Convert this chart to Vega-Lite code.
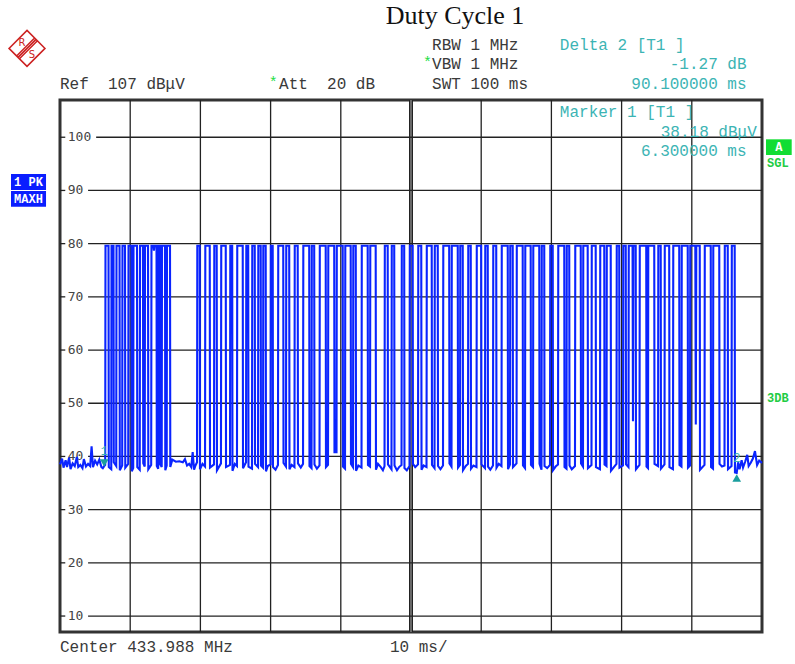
{
  "$schema": "https://vega.github.io/schema/vega-lite/v6.json",
  "width": 702,
  "height": 532,
  "autosize": {"type": "none"},
  "padding": {"left": 60, "top": 100, "right": 33, "bottom": 32},
  "background": "white",
  "config": {"view": {"stroke": "#333", "strokeWidth": 3}},
  "datasets": {
    "trace": [
      {"t":0,"v":38.5},{"t":0.3,"v":39.6},{"t":0.5,"v":37.9},{"t":0.8,"v":39.3},{"t":1.0,"v":38.0},{"t":1.3,"v":39.8},{"t":1.5,"v":37.6},{"t":1.8,"v":38.7},{"t":2.1,"v":38.2},{"t":2.4,"v":39.9},{"t":2.6,"v":38.0},{"t":2.9,"v":38.4},{"t":3.2,"v":37.8},{"t":3.4,"v":39.5},{"t":3.7,"v":38.1},{"t":4.0,"v":38.6},{"t":4.3,"v":38.2},{"t":4.5,"v":41.9},{"t":4.7,"v":38.0},{"t":5.0,"v":39.2},{"t":5.3,"v":38.5},{"t":5.6,"v":39.4},{"t":5.9,"v":38.0},{"t":6.1,"v":37.8},{"t":6.3,"v":38.18},
      {"t":6.44,"v":38.4},{"t":6.48,"v":79.6},{"t":6.91,"v":79.6},{"t":6.95,"v":38.0},
      {"t":7.30,"v":37.6},{"t":7.34,"v":79.6},{"t":7.62,"v":79.6},{"t":7.66,"v":38.9},
      {"t":8.01,"v":38.2},{"t":8.05,"v":79.6},{"t":8.48,"v":79.6},{"t":8.52,"v":37.4},
      {"t":8.86,"v":38.3},{"t":8.90,"v":79.6},{"t":9.26,"v":79.6},{"t":9.30,"v":37.9},
      {"t":9.72,"v":38.6},{"t":9.76,"v":79.6},{"t":10.19,"v":79.6},{"t":10.23,"v":37.2},
      {"t":10.43,"v":37.8},{"t":10.47,"v":79.6},{"t":10.97,"v":79.6},{"t":11.01,"v":38.0},
      {"t":11.36,"v":37.5},{"t":11.40,"v":79.6},{"t":11.82,"v":79.6},{"t":11.86,"v":38.7},
      {"t":12.07,"v":38.1},{"t":12.11,"v":79.6},{"t":12.54,"v":79.6},{"t":12.58,"v":37.6},
      {"t":12.99,"v":38.4},{"t":13.03,"v":79.6},{"t":13.30,"v":79.6},{"t":13.38,"v":78.7},{"t":13.46,"v":79.6},{"t":13.75,"v":79.6},{"t":13.79,"v":38.2},
      {"t":13.99,"v":37.7},{"t":14.03,"v":79.6},{"t":14.25,"v":79.6},{"t":14.29,"v":38.5},
      {"t":14.49,"v":38.0},{"t":14.53,"v":79.6},{"t":14.96,"v":79.6},{"t":15.00,"v":37.4},
      {"t":15.20,"v":38.3},{"t":15.24,"v":79.6},{"t":15.67,"v":79.6},{"t":15.71,"v":38.0},
      {"t":16.0,"v":39.4},{"t":16.5,"v":39.0},{"t":17.0,"v":39.1},{"t":17.5,"v":38.9},{"t":17.8,"v":39.5},{"t":18.1,"v":38.3},{"t":18.4,"v":38.6},{"t":18.7,"v":38.0},{"t":18.9,"v":40.8},{"t":19.1,"v":37.5},{"t":19.3,"v":38.3},
      {"t":19.52,"v":38.9},{"t":19.56,"v":79.6},{"t":19.90,"v":79.6},{"t":19.94,"v":37.6},{"t":20.3,"v":38.6},
      {"t":20.66,"v":38.1},{"t":20.70,"v":79.6},{"t":21.33,"v":79.6},{"t":21.37,"v":37.9},
      {"t":21.94,"v":38.5},{"t":21.98,"v":79.6},{"t":22.32,"v":79.6},{"t":22.36,"v":37.4},
      {"t":22.93,"v":38.7},{"t":22.97,"v":79.6},{"t":23.61,"v":79.6},{"t":23.65,"v":38.0},
      {"t":24.22,"v":38.4},{"t":24.26,"v":79.6},{"t":24.53,"v":79.6},{"t":24.57,"v":37.3},{"t":24.9,"v":38.6},
      {"t":25.21,"v":38.2},{"t":25.25,"v":79.6},{"t":26.03,"v":79.6},{"t":26.07,"v":37.8},
      {"t":26.50,"v":38.9},{"t":26.54,"v":79.6},{"t":26.81,"v":79.6},{"t":26.85,"v":38.1},
      {"t":27.35,"v":37.7},{"t":27.39,"v":79.6},{"t":27.74,"v":79.6},{"t":27.78,"v":38.6},
      {"t":28.21,"v":38.0},{"t":28.25,"v":79.6},{"t":28.59,"v":79.6},{"t":28.63,"v":38.3},
      {"t":28.92,"v":37.9},{"t":28.96,"v":79.6},{"t":29.30,"v":79.6},{"t":29.34,"v":37.2},{"t":29.6,"v":38.2},
      {"t":29.99,"v":38.5},{"t":30.03,"v":79.6},{"t":30.30,"v":79.6},{"t":30.34,"v":38.0},{"t":30.7,"v":37.5},
      {"t":31.05,"v":38.4},{"t":31.09,"v":79.6},{"t":31.80,"v":79.6},{"t":31.84,"v":38.8},
      {"t":32.19,"v":38.1},{"t":32.23,"v":79.6},{"t":32.65,"v":79.6},{"t":32.69,"v":37.6},{"t":33.0,"v":38.4},
      {"t":33.40,"v":38.0},{"t":33.44,"v":79.6},{"t":33.86,"v":79.6},{"t":33.90,"v":38.7},{"t":34.3,"v":37.9},
      {"t":34.62,"v":38.6},{"t":34.66,"v":79.6},{"t":35.50,"v":79.6},{"t":35.54,"v":38.2},
      {"t":35.83,"v":37.8},{"t":35.87,"v":79.6},{"t":36.21,"v":79.6},{"t":36.25,"v":38.5},{"t":36.6,"v":37.7},
      {"t":36.97,"v":38.3},{"t":37.01,"v":79.6},{"t":37.85,"v":79.6},{"t":37.89,"v":38.0},
      {"t":38.18,"v":38.4},{"t":38.22,"v":79.6},{"t":39.06,"v":79.6},{"t":39.10,"v":40.8},
      {"t":39.39,"v":40.8},{"t":39.43,"v":79.6},{"t":40.27,"v":79.6},{"t":40.31,"v":38.1},
      {"t":40.60,"v":37.7},{"t":40.64,"v":79.6},{"t":41.41,"v":79.6},{"t":41.45,"v":38.6},
      {"t":41.74,"v":38.0},{"t":41.78,"v":79.6},{"t":42.13,"v":79.6},{"t":42.17,"v":37.3},{"t":42.5,"v":38.3},
      {"t":42.95,"v":37.9},{"t":42.99,"v":79.6},{"t":43.83,"v":79.6},{"t":43.87,"v":38.4},
      {"t":44.16,"v":38.1},{"t":44.20,"v":79.6},{"t":44.97,"v":79.6},{"t":45.01,"v":37.5},{"t":45.3,"v":38.6},{"t":45.7,"v":38.0},{"t":46.0,"v":37.4},
      {"t":46.23,"v":38.2},{"t":46.27,"v":79.6},{"t":46.68,"v":79.6},{"t":46.72,"v":38.5},
      {"t":47.22,"v":37.6},{"t":47.26,"v":79.6},{"t":47.61,"v":79.6},{"t":47.65,"v":38.3},{"t":48.0,"v":37.4},{"t":48.3,"v":38.0},
      {"t":48.65,"v":38.4},{"t":48.69,"v":79.6},{"t":49.03,"v":79.6},{"t":49.07,"v":37.8},{"t":49.4,"v":37.4},
      {"t":49.79,"v":38.2},{"t":49.83,"v":79.6},{"t":50.24,"v":79.6},{"t":50.28,"v":38.6},{"t":50.6,"v":38.0},
      {"t":51.00,"v":38.5},{"t":51.04,"v":79.6},{"t":51.46,"v":79.6},{"t":51.50,"v":37.5},{"t":51.8,"v":38.3},
      {"t":52.21,"v":38.0},{"t":52.25,"v":79.6},{"t":52.95,"v":79.6},{"t":52.99,"v":38.4},
      {"t":53.35,"v":37.8},{"t":53.39,"v":79.6},{"t":53.81,"v":79.6},{"t":53.85,"v":38.2},{"t":54.2,"v":37.6},
      {"t":54.56,"v":38.3},{"t":54.60,"v":79.6},{"t":55.44,"v":79.6},{"t":55.48,"v":38.7},
      {"t":55.77,"v":38.1},{"t":55.81,"v":79.6},{"t":56.66,"v":79.6},{"t":56.70,"v":37.9},
      {"t":56.98,"v":38.4},{"t":57.02,"v":79.6},{"t":57.37,"v":79.6},{"t":57.41,"v":37.4},{"t":57.8,"v":38.2},
      {"t":58.12,"v":38.6},{"t":58.16,"v":79.6},{"t":58.51,"v":79.6},{"t":58.55,"v":37.7},{"t":58.9,"v":38.3},
      {"t":59.33,"v":38.0},{"t":59.37,"v":79.6},{"t":60.00,"v":79.6},{"t":60.04,"v":38.5},
      {"t":60.54,"v":37.8},{"t":60.58,"v":79.6},{"t":60.93,"v":79.6},{"t":60.97,"v":38.1},{"t":61.3,"v":37.5},
      {"t":61.68,"v":38.3},{"t":61.72,"v":79.6},{"t":62.14,"v":79.6},{"t":62.18,"v":37.9},{"t":62.5,"v":38.6},
      {"t":62.89,"v":38.2},{"t":62.93,"v":79.6},{"t":63.78,"v":79.6},{"t":63.82,"v":37.6},
      {"t":64.10,"v":38.5},{"t":64.14,"v":79.6},{"t":64.49,"v":79.6},{"t":64.53,"v":38.0},
      {"t":65.03,"v":38.7},{"t":65.07,"v":79.6},{"t":65.91,"v":79.6},{"t":65.95,"v":38.3},
      {"t":66.24,"v":37.8},{"t":66.28,"v":79.6},{"t":67.05,"v":79.6},{"t":67.09,"v":38.4},
      {"t":67.38,"v":38.0},{"t":67.42,"v":79.6},{"t":68.27,"v":79.6},{"t":68.31,"v":38.6},
      {"t":68.59,"v":37.5},{"t":68.63,"v":79.6},{"t":68.98,"v":79.6},{"t":69.02,"v":38.2},{"t":69.4,"v":37.8},
      {"t":69.80,"v":38.4},{"t":69.84,"v":79.6},{"t":70.19,"v":79.6},{"t":70.23,"v":37.4},{"t":70.6,"v":38.1},
      {"t":70.94,"v":38.5},{"t":70.98,"v":79.6},{"t":71.83,"v":79.6},{"t":71.87,"v":38.0},
      {"t":72.15,"v":37.7},{"t":72.19,"v":79.6},{"t":72.54,"v":79.6},{"t":72.58,"v":38.3},{"t":72.9,"v":37.6},
      {"t":73.36,"v":38.2},{"t":73.40,"v":79.6},{"t":74.18,"v":79.6},{"t":74.22,"v":38.7},
      {"t":74.50,"v":38.1},{"t":74.54,"v":79.6},{"t":75.17,"v":79.6},{"t":75.21,"v":37.8},
      {"t":75.71,"v":38.4},{"t":75.75,"v":79.6},{"t":76.31,"v":79.6},{"t":76.35,"v":38.0},
      {"t":76.92,"v":37.6},{"t":76.96,"v":79.6},{"t":77.53,"v":79.6},{"t":77.57,"v":38.5},
      {"t":77.85,"v":38.2},{"t":77.89,"v":79.6},{"t":78.45,"v":79.6},{"t":78.49,"v":37.3},{"t":78.9,"v":38.0},
      {"t":79.27,"v":38.6},{"t":79.31,"v":79.6},{"t":79.66,"v":79.6},{"t":79.70,"v":37.9},
      {"t":80.20,"v":38.3},{"t":80.24,"v":79.6},{"t":80.59,"v":79.6},{"t":80.63,"v":38.5},
      {"t":80.98,"v":38.0},{"t":81.02,"v":79.6},{"t":81.56,"v":79.6},{"t":81.62,"v":46.6},{"t":81.68,"v":79.6},{"t":82.01,"v":79.6},{"t":82.05,"v":37.6},
      {"t":82.55,"v":38.4},{"t":82.59,"v":79.6},{"t":83.51,"v":79.6},{"t":83.55,"v":38.1},
      {"t":83.76,"v":37.8},{"t":83.80,"v":79.6},{"t":84.65,"v":79.6},{"t":84.69,"v":38.6},
      {"t":85.19,"v":38.2},{"t":85.23,"v":79.6},{"t":85.57,"v":79.6},{"t":85.61,"v":37.7},
      {"t":86.11,"v":38.5},{"t":86.15,"v":79.6},{"t":86.78,"v":79.6},{"t":86.82,"v":38.0},
      {"t":87.32,"v":37.6},{"t":87.36,"v":79.6},{"t":88.21,"v":79.6},{"t":88.25,"v":38.4},
      {"t":88.53,"v":38.1},{"t":88.57,"v":79.6},{"t":89.42,"v":79.6},{"t":89.46,"v":37.9},
      {"t":89.74,"v":38.3},{"t":89.78,"v":79.6},{"t":90.50,"v":79.6},{"t":90.57,"v":46.0},{"t":90.64,"v":79.6},{"t":91.13,"v":79.6},{"t":91.17,"v":37.5},
      {"t":91.81,"v":38.4},{"t":91.85,"v":79.6},{"t":92.70,"v":79.6},{"t":92.74,"v":38.0},
      {"t":93.02,"v":37.7},{"t":93.06,"v":79.6},{"t":93.91,"v":79.6},{"t":93.95,"v":38.6},{"t":94.3,"v":38.1},
      {"t":94.66,"v":38.3},{"t":94.70,"v":79.6},{"t":95.12,"v":79.6},{"t":95.16,"v":37.6},
      {"t":95.66,"v":38.2},{"t":95.70,"v":79.6},{"t":96.11,"v":79.6},{"t":96.15,"v":37.0},
      {"t":96.4,"v":36.9},{"t":96.6,"v":38.9},{"t":96.8,"v":37.6},{"t":97.1,"v":39.3},{"t":97.3,"v":37.9},{"t":97.6,"v":39.0},{"t":97.9,"v":40.3},{"t":98.1,"v":38.2},{"t":98.4,"v":38.8},{"t":98.7,"v":39.6},{"t":99.0,"v":41.0},{"t":99.3,"v":38.4},{"t":99.6,"v":39.2},{"t":100,"v":38.8}
    ],
    "vgrid": [{"g":10},{"g":20},{"g":30},{"g":40},{"g":60},{"g":70},{"g":80},{"g":90}],
    "hgrid": [
      {"v":100,"lab":"100"},{"v":90,"lab":"90"},{"v":80,"lab":"80"},{"v":70,"lab":"70"},{"v":60,"lab":"60"},
      {"v":50,"lab":"50"},{"v":40,"lab":"40"},{"v":30,"lab":"30"},{"v":20,"lab":"20"},{"v":10,"lab":"10"}
    ],
    "markers": [{"t":6.3,"v":38.18,"n":"1"},{"t":96.4,"v":36.91,"n":"2"}],
    "grayText": [
      {"x":0,"y":110.0,"s":"Ref\u00a0\u00a0107 dBμV"},
      {"x":31.2,"y":110.0,"s":"Att\u00a0\u00a020 dB"},
      {"x":53.0,"y":117.34,"s":"RBW 1 MHz"},
      {"x":53.0,"y":113.77,"s":"VBW 1 MHz"},
      {"x":53.0,"y":110.0,"s":"SWT 100 ms"},
      {"x":0,"y":4.18,"s":"Center 433.988 MHz"},
      {"x":47.0,"y":4.18,"s":"10 ms/"}
    ],
    "tealLeft": [
      {"x":71.2,"y":117.34,"s":"Delta 2 [T1 ]"},
      {"x":71.2,"y":104.8,"s":"Marker 1 [T1 ]"}
    ],
    "tealRight": [
      {"x":97.8,"y":113.77,"s":"-1.27 dB"},
      {"x":97.8,"y":110.0,"s":"90.100000 ms"},
      {"x":99.25,"y":101.04,"s":"38.18 dBμV"},
      {"x":97.8,"y":97.47,"s":"6.300000 ms"}
    ],
    "stars": [{"x":29.75,"y":110.35,"s":"*"},{"x":51.7,"y":114.1,"s":"*"}],
    "greenText": [{"x":100.71,"y":95.1,"s":"SGL"},{"x":100.71,"y":50.93,"s":"3DB"}],
    "boxes": [
      {"x":-6.98,"x2":-1.99,"y":93.09,"y2":90.08,"s":"1 PK","cx":-4.49,"cy":91.59,"c":"blue"},
      {"x":-6.98,"x2":-1.99,"y":89.89,"y2":86.94,"s":"MAXH","cx":-4.49,"cy":88.42,"c":"blue"},
      {"x":100.57,"x2":104.23,"y":99.61,"y2":96.66,"s":"A","cx":102.4,"cy":98.13,"c":"green"}
    ],
    "logo": [{"x":-4.7,"y":116.7}],
    "logoText": [{"x":-5.41,"y":117.75,"s":"R"},{"x":-3.99,"y":115.45,"s":"S"}],
    "titleText": [{"x":56.27,"y":122.8,"s":"Duty Cycle 1"}]
  },
  "layer": [
    {
      "data": {"name": "vgrid"},
      "mark": {"type": "rule", "color": "#222", "strokeWidth": 1.3},
      "encoding": {"x": {"field": "g", "type": "quantitative", "scale": {"domain": [0, 100], "nice": false, "zero": false}, "axis": null}}
    },
    {
      "data": {"values": [{"g": 50}]},
      "mark": {"type": "rule", "color": "#222", "strokeWidth": 4},
      "encoding": {"x": {"field": "g", "type": "quantitative", "scale": {"domain": [0, 100], "nice": false, "zero": false}, "axis": null}}
    },
    {
      "data": {"values": [{"g": 50}]},
      "mark": {"type": "rule", "color": "#999", "strokeWidth": 1.2},
      "encoding": {"x": {"field": "g", "type": "quantitative", "scale": {"domain": [0, 100], "nice": false, "zero": false}, "axis": null}}
    },
    {
      "data": {"name": "hgrid"},
      "transform": [{"filter": "datum.v < 100"}],
      "mark": {"type": "rule", "color": "#222", "strokeWidth": 1.3},
      "encoding": {
        "x": {"datum": 4.0, "type": "quantitative", "scale": {"domain": [0, 100], "nice": false, "zero": false}, "axis": null},
        "x2": {"datum": 100},
        "y": {"field": "v", "type": "quantitative", "scale": {"domain": [7, 107], "nice": false, "zero": false}, "axis": null}
      }
    },
    {
      "data": {"name": "hgrid"},
      "transform": [{"filter": "datum.v == 100"}],
      "mark": {"type": "rule", "color": "#222", "strokeWidth": 1.3},
      "encoding": {
        "x": {"datum": 5.15, "type": "quantitative", "scale": {"domain": [0, 100], "nice": false, "zero": false}, "axis": null},
        "x2": {"datum": 100},
        "y": {"field": "v", "type": "quantitative", "scale": {"domain": [7, 107], "nice": false, "zero": false}, "axis": null}
      }
    },
    {
      "data": {"name": "hgrid"},
      "mark": {"type": "rule", "color": "#222", "strokeWidth": 1.3},
      "encoding": {
        "x": {"datum": 0, "type": "quantitative", "scale": {"domain": [0, 100], "nice": false, "zero": false}, "axis": null},
        "x2": {"datum": 0.75},
        "y": {"field": "v", "type": "quantitative", "scale": {"domain": [7, 107], "nice": false, "zero": false}, "axis": null}
      }
    },
    {
      "data": {"name": "hgrid"},
      "mark": {"type": "text", "align": "left", "baseline": "middle", "font": "DejaVu Sans Mono", "fontSize": 13, "color": "#444"},
      "encoding": {
        "x": {"datum": 1.1, "type": "quantitative", "scale": {"domain": [0, 100], "nice": false, "zero": false}, "axis": null},
        "y": {"field": "v", "type": "quantitative", "scale": {"domain": [7, 107], "nice": false, "zero": false}, "axis": null},
        "text": {"field": "lab"}
      }
    },
    {
      "data": {"name": "trace"},
      "mark": {"type": "line", "color": "#0a24ff", "strokeWidth": 2.1},
      "encoding": {
        "x": {"field": "t", "type": "quantitative", "scale": {"domain": [0, 100], "nice": false, "zero": false}, "axis": null},
        "y": {"field": "v", "type": "quantitative", "scale": {"domain": [7, 107], "nice": false, "zero": false}, "axis": null},
        "order": {"field": "t", "type": "quantitative"}
      }
    },
    {
      "data": {"name": "markers"},
      "transform": [{"filter": "datum.n == '1'"}],
      "mark": {"type": "point", "shape": "triangle-down", "filled": true, "color": "#1a9e9e", "size": 75, "yOffset": -3, "opacity": 1},
      "encoding": {
        "x": {"field": "t", "type": "quantitative", "scale": {"domain": [0, 100], "nice": false, "zero": false}, "axis": null},
        "y": {"field": "v", "type": "quantitative", "scale": {"domain": [7, 107], "nice": false, "zero": false}, "axis": null}
      }
    },
    {
      "data": {"name": "markers"},
      "transform": [{"filter": "datum.n == '2'"}],
      "mark": {"type": "point", "shape": "triangle-up", "filled": true, "color": "#1a9e9e", "size": 75, "yOffset": 5, "opacity": 1},
      "encoding": {
        "x": {"field": "t", "type": "quantitative", "scale": {"domain": [0, 100], "nice": false, "zero": false}, "axis": null},
        "y": {"field": "v", "type": "quantitative", "scale": {"domain": [7, 107], "nice": false, "zero": false}, "axis": null}
      }
    },
    {
      "data": {"name": "markers"},
      "mark": {"type": "text", "align": "center", "baseline": "middle", "font": "Liberation Mono", "fontSize": 12, "color": "#3cb4b4", "dy": -15},
      "encoding": {
        "x": {"field": "t", "type": "quantitative", "scale": {"domain": [0, 100], "nice": false, "zero": false}, "axis": null},
        "y": {"field": "v", "type": "quantitative", "scale": {"domain": [7, 107], "nice": false, "zero": false}, "axis": null},
        "text": {"field": "n"}
      }
    },
    {
      "data": {"name": "grayText"},
      "mark": {"type": "text", "align": "left", "baseline": "middle", "font": "Liberation Mono", "fontSize": 16, "color": "#3a3a3a"},
      "encoding": {
        "x": {"field": "x", "type": "quantitative", "scale": {"domain": [0, 100], "nice": false, "zero": false}, "axis": null},
        "y": {"field": "y", "type": "quantitative", "scale": {"domain": [7, 107], "nice": false, "zero": false}, "axis": null},
        "text": {"field": "s"}
      }
    },
    {
      "data": {"name": "tealLeft"},
      "mark": {"type": "text", "align": "left", "baseline": "middle", "font": "Liberation Mono", "fontSize": 16, "color": "#3cb4b4"},
      "encoding": {
        "x": {"field": "x", "type": "quantitative", "scale": {"domain": [0, 100], "nice": false, "zero": false}, "axis": null},
        "y": {"field": "y", "type": "quantitative", "scale": {"domain": [7, 107], "nice": false, "zero": false}, "axis": null},
        "text": {"field": "s"}
      }
    },
    {
      "data": {"name": "tealRight"},
      "mark": {"type": "text", "align": "right", "baseline": "middle", "font": "Liberation Mono", "fontSize": 16, "color": "#3cb4b4"},
      "encoding": {
        "x": {"field": "x", "type": "quantitative", "scale": {"domain": [0, 100], "nice": false, "zero": false}, "axis": null},
        "y": {"field": "y", "type": "quantitative", "scale": {"domain": [7, 107], "nice": false, "zero": false}, "axis": null},
        "text": {"field": "s"}
      }
    },
    {
      "data": {"name": "stars"},
      "mark": {"type": "text", "align": "left", "baseline": "middle", "font": "Liberation Mono", "fontSize": 15, "color": "#22dd44"},
      "encoding": {
        "x": {"field": "x", "type": "quantitative", "scale": {"domain": [0, 100], "nice": false, "zero": false}, "axis": null},
        "y": {"field": "y", "type": "quantitative", "scale": {"domain": [7, 107], "nice": false, "zero": false}, "axis": null},
        "text": {"field": "s"}
      }
    },
    {
      "data": {"name": "greenText"},
      "mark": {"type": "text", "align": "left", "baseline": "middle", "font": "Liberation Mono", "fontSize": 12, "fontWeight": "bold", "color": "#22cc44"},
      "encoding": {
        "x": {"field": "x", "type": "quantitative", "scale": {"domain": [0, 100], "nice": false, "zero": false}, "axis": null},
        "y": {"field": "y", "type": "quantitative", "scale": {"domain": [7, 107], "nice": false, "zero": false}, "axis": null},
        "text": {"field": "s"}
      }
    },
    {
      "data": {"name": "boxes"},
      "mark": {"type": "rect"},
      "encoding": {
        "x": {"field": "x", "type": "quantitative", "scale": {"domain": [0, 100], "nice": false, "zero": false}, "axis": null},
        "x2": {"field": "x2"},
        "y": {"field": "y", "type": "quantitative", "scale": {"domain": [7, 107], "nice": false, "zero": false}, "axis": null},
        "y2": {"field": "y2"},
        "color": {"field": "c", "type": "nominal", "scale": {"domain": ["blue", "green"], "range": ["#0a1eff", "#11dd33"]}, "legend": null}
      }
    },
    {
      "data": {"name": "boxes"},
      "mark": {"type": "text", "align": "center", "baseline": "middle", "font": "Liberation Mono", "fontSize": 12, "fontWeight": "bold", "color": "white"},
      "encoding": {
        "x": {"field": "cx", "type": "quantitative", "scale": {"domain": [0, 100], "nice": false, "zero": false}, "axis": null},
        "y": {"field": "cy", "type": "quantitative", "scale": {"domain": [7, 107], "nice": false, "zero": false}, "axis": null},
        "text": {"field": "s"}
      }
    },
    {
      "data": {"name": "logo"},
      "mark": {"type": "point", "shape": "M0,-1L1,0L0,1L-1,0Z M-0.5,0.5L0.5,-0.5 M-0.42,0.58L0.58,-0.42 M-0.58,0.42L0.42,-0.58", "filled": false, "color": "#cc2222", "strokeWidth": 1.5, "size": 1296, "opacity": 1},
      "encoding": {
        "x": {"field": "x", "type": "quantitative", "scale": {"domain": [0, 100], "nice": false, "zero": false}, "axis": null},
        "y": {"field": "y", "type": "quantitative", "scale": {"domain": [7, 107], "nice": false, "zero": false}, "axis": null}
      }
    },
    {
      "data": {"name": "logoText"},
      "mark": {"type": "text", "align": "center", "baseline": "middle", "font": "DejaVu Sans", "fontSize": 10, "color": "#cc2222"},
      "encoding": {
        "x": {"field": "x", "type": "quantitative", "scale": {"domain": [0, 100], "nice": false, "zero": false}, "axis": null},
        "y": {"field": "y", "type": "quantitative", "scale": {"domain": [7, 107], "nice": false, "zero": false}, "axis": null},
        "text": {"field": "s"}
      }
    },
    {
      "data": {"name": "titleText"},
      "mark": {"type": "text", "align": "center", "baseline": "middle", "font": "Liberation Serif", "fontSize": 26, "color": "#111"},
      "encoding": {
        "x": {"field": "x", "type": "quantitative", "scale": {"domain": [0, 100], "nice": false, "zero": false}, "axis": null},
        "y": {"field": "y", "type": "quantitative", "scale": {"domain": [7, 107], "nice": false, "zero": false}, "axis": null},
        "text": {"field": "s"}
      }
    }
  ]
}
